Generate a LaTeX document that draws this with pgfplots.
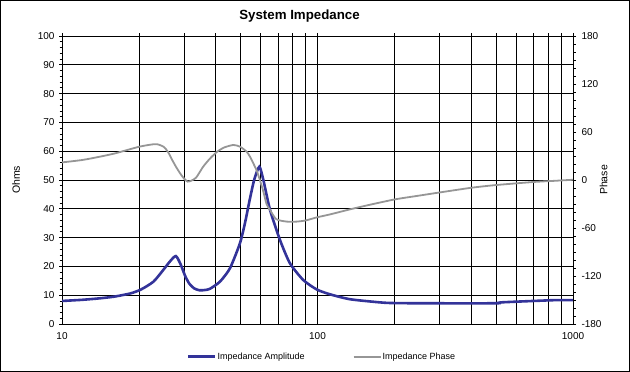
\documentclass[border=0pt]{standalone}
\usepackage{fontspec}
\setmainfont{Liberation Sans}
\usepackage{pgfplots}
\pgfplotsset{compat=1.18}
\definecolor{amp}{RGB}{51,51,153}
\definecolor{pha}{RGB}{150,150,150}
\pgfplotsset{
  common/.style={
    at={(62pt,48pt)}, anchor=south west, scale only axis,
    width=511pt, height=288pt,
    xmin=10, xmax=1000,
    axis line style={black, line width=0.75pt},
    tick style={black, line width=0.75pt},
    tick align=outside, major tick length=3pt, minor tick length=2.5pt,
    ticklabel style={font=\fontsize{10}{12}\selectfont},
    /pgf/number format/assume math mode=true,
    label style={font=\fontsize{10.5}{12}\selectfont},
  }
}
\begin{document}
\begin{tikzpicture}[x=1pt,y=1pt]
\draw[line width=1pt] (0.5,0.5) rectangle (629.5,371.5);
\begin{semilogxaxis}[common,
  ymin=0, ymax=100,
  xtick={10,100,1000}, xticklabels={10,100,1000},
  minor xtick={20,30,40,50,60,70,80,90,200,300,400,500,600,700,800,900},
  xtick pos=upper, xticklabel pos=lower,
  xticklabel style={yshift=-2pt},
  xmajorgrids, xminorgrids, ymajorgrids,
  major grid style={black, line width=0.75pt},
  minor grid style={black, line width=0.75pt},
  ytick={0,10,...,100}, minor y tick num=4,
  ytick pos=left,
  yticklabel style={xshift=-1pt},
  ylabel={Ohms},
  ylabel style={at={(axis description cs:-0.0896,0.5)}, anchor=center},
  title={System Impedance},
  title style={at={(axis description cs:0.4648,1)}, anchor=base, yshift=10pt, font=\fontsize{13.3}{15}\selectfont\bfseries},
]
\addplot[amp, line width=2.6pt, smooth, tension=0.4] coordinates {
(10,8.0)(12,8.4)(14,8.9)(16,9.5)(18.5,10.6)(20.4,12.0)(22.8,14.7)(24.9,18.75)
(26.5,21.8)(27.9,23.6)(29.1,20.8)(30.3,16.8)(31.5,14.0)(33,12.3)(34.6,11.7)(36.2,11.8)(37.9,12.2)
(41.5,14.7)(45.4,19.3)(49.7,28)(52,35)(54.1,42.5)(56.5,50)(59.2,54.6)(61.4,50)
(65.2,39.6)(71.3,29.2)(78,21.1)(87.9,15.3)(99.3,12.0)(112,10.3)(134,8.6)(171,7.6)
(192,7.3)(250,7.2)(500,7.2)(520,7.5)(700,8.0)(863,8.3)(1000,8.3)
};
\end{semilogxaxis}
\begin{semilogxaxis}[common,
  axis x line=none, axis y line*=right,
  ymin=-180, ymax=180,
  ytick={-180,-120,...,180}, minor y tick num=5,
  yticklabel style={xshift=2pt},
  ylabel={Phase},
  ylabel style={at={(axis description cs:1.0597,0.5)}, anchor=center},
  legend columns=2,
  legend style={at={(axis description cs:0.508,-0.1135)}, anchor=center, draw=none, fill=none,
    font=\fontsize{9}{11}\selectfont,
    /tikz/every even column/.append style={column sep=47pt},
    nodes={inner sep=1pt}},
  legend image code/.code={\draw[#1] (0pt,0pt) -- (27pt,0pt);},
]
\addlegendimage{amp, line width=2.6pt}
\addlegendentry{Impedance Amplitude}
\addplot[pha, line width=1.8pt, smooth, tension=0.4] coordinates {
(10,22)(12,25)(14,29)(16,33)(18,37.5)(20,41.5)(22,44)(23.5,44.8)(25,41.5)(26,35)
(27,25)(28,16)(29,8.3)(30,2)(31,-2)(32,-1)(33.5,3)(35.7,16.7)(38,27)(40.5,35.4)
(43,40.5)(46.8,43.8)(49.7,41.7)(52.8,35.4)(54.4,29.2)(57.7,12.5)(59.5,0)(61.4,-14.6)
(63.2,-30)(65.2,-37.5)(69,-49)(75.8,-52)(83,-52)(90,-50.5)(100,-46.5)(112,-43)
(134,-36.7)(160,-31)(201,-24.2)(250,-19.5)(303,-15.4)(402,-9.6)(500,-6.3)(700,-2.5)
(850,-1)(1000,0.3)
};
\addlegendentry{Impedance Phase}
\end{semilogxaxis}
\end{tikzpicture}
\end{document}
